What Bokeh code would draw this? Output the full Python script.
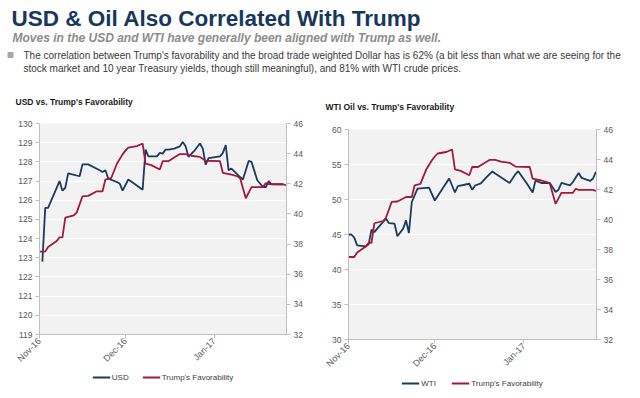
import math
import pandas as pd
from bokeh.plotting import figure
from bokeh.models import (Range1d, LinearAxis, Label, Legend, LegendItem, MonthsTicker,
                          DatetimeTickFormatter, FixedTicker)
from bokeh.layouts import column, row
from bokeh.embed import file_html
from bokeh.resources import INLINE

# ---------------- texts ----------------
TITLE = "USD & Oil Also Correlated With Trump"
SUBTITLE = "Moves in the USD and WTI have generally been aligned with Trump as well."
BULLET_LINES = [
    "The correlation between Trump's favorability and the broad trade weighted Dollar has is 62% (a bit less than what we are seeing for the",
    "stock market and 10 year Treasury yields, though still meaningful), and 81% with WTI crude prices.",
]
CHART1_TITLE = "USD vs. Trump's Favorability"
CHART2_TITLE = "WTI Oil vs. Trump's Favorability"
USD_LABEL = "USD"
WTI_LABEL = "WTI"
FAV_LABEL = "Trump's Favorability"

# ---------------- data ----------------
usd_dates = ["2016-11-02", "2016-11-03", "2016-11-04", "2016-11-08", "2016-11-09", "2016-11-10",
             "2016-11-11", "2016-11-15", "2016-11-16", "2016-11-18", "2016-11-22", "2016-11-23",
             "2016-11-24", "2016-11-25", "2016-11-28", "2016-11-29", "2016-11-30", "2016-12-02",
             "2016-12-04", "2016-12-07", "2016-12-08", "2016-12-09", "2016-12-12", "2016-12-13",
             "2016-12-14", "2016-12-15", "2016-12-16", "2016-12-18", "2016-12-20", "2016-12-21",
             "2016-12-22", "2016-12-23", "2016-12-25", "2016-12-27", "2016-12-28", "2016-12-29",
             "2016-12-30", "2017-01-03", "2017-01-04", "2017-01-05", "2017-01-06", "2017-01-07",
             "2017-01-10", "2017-01-11", "2017-01-13", "2017-01-14", "2017-01-16", "2017-01-18",
             "2017-01-19", "2017-01-20", "2017-01-21", "2017-01-25"]
usd_values = [122.8, 125.6, 125.6, 127.0, 126.5, 126.65,
              127.4, 127.25, 127.87, 127.87, 127.56, 127.47,
              127.56, 127.13, 126.95, 126.87, 126.5, 127.08,
              126.87, 126.55, 128.64, 128.29, 128.29, 128.47,
              128.43, 128.64, 128.64, 128.69, 128.81, 129.04,
              128.81, 128.26, 128.57, 128.96, 128.69, 127.85,
              128.2, 128.29, 128.47, 128.87, 127.56, 127.65,
              127.21, 127.08, 128.05, 128.0, 127.04, 126.69,
              126.69, 127.0, 126.83, 126.83]

wti_dates = ["2016-11-01", "2016-11-02", "2016-11-03", "2016-11-04", "2016-11-07", "2016-11-08",
             "2016-11-09", "2016-11-10", "2016-11-11", "2016-11-14", "2016-11-15", "2016-11-17",
             "2016-11-18", "2016-11-20", "2016-11-21", "2016-11-22", "2016-11-23", "2016-11-25",
             "2016-11-29", "2016-12-01", "2016-12-04", "2016-12-06", "2016-12-08", "2016-12-09",
             "2016-12-13", "2016-12-14", "2016-12-15", "2016-12-17", "2016-12-19", "2016-12-21",
             "2016-12-22", "2016-12-27", "2016-12-29", "2016-12-30", "2017-01-02", "2017-01-04",
             "2017-01-05", "2017-01-07", "2017-01-10", "2017-01-12", "2017-01-13", "2017-01-14",
             "2017-01-17", "2017-01-18", "2017-01-20", "2017-01-21", "2017-01-24", "2017-01-25",
             "2017-01-26"]
wti_values = [45.0, 45.0, 44.55, 43.45, 43.3, 43.6,
              45.7, 45.35, 45.84, 47.27, 46.64, 46.55,
              44.74, 45.84, 47.02, 45.21, 49.64, 51.56,
              51.7, 49.85, 51.75, 53.0, 51.0, 51.9,
              52.25, 51.4, 52.0, 52.3, 53.2, 54.0,
              53.7, 52.36, 53.6, 54.05, 52.28, 51.0,
              52.7, 52.36, 52.36, 51.07, 51.4, 52.36,
              52.03, 52.5, 53.8, 53.1, 52.65, 53.0,
              53.95]

fav_dates = ["2016-11-01", "2016-11-03", "2016-11-04", "2016-11-07", "2016-11-08", "2016-11-09",
             "2016-11-10", "2016-11-13", "2016-11-14", "2016-11-16", "2016-11-18", "2016-11-21",
             "2016-11-23", "2016-11-24", "2016-11-26", "2016-11-28", "2016-11-30", "2016-12-01",
             "2016-12-02", "2016-12-05", "2016-12-07", "2016-12-08", "2016-12-10", "2016-12-13",
             "2016-12-14", "2016-12-16", "2016-12-18", "2016-12-20", "2016-12-22", "2016-12-24",
             "2016-12-27", "2016-12-29", "2017-01-03", "2017-01-04", "2017-01-07", "2017-01-09",
             "2017-01-10", "2017-01-12", "2017-01-14", "2017-01-18", "2017-01-19", "2017-01-20",
             "2017-01-25", "2017-01-26"]
fav_values = [37.5, 37.5, 37.8, 38.2, 38.45, 38.45,
              39.75, 39.9, 40.1, 41.17, 41.2, 41.5,
              41.5, 42.28, 42.37, 43.33, 43.95, 44.2,
              44.4, 44.5, 44.67, 43.34, 43.24, 42.95,
              43.5, 43.5, 43.74, 43.97, 43.97, 43.86,
              43.78, 43.53, 43.5, 42.72, 42.6, 42.5,
              42.38, 41.04, 41.78, 41.78, 42.05, 41.98,
              41.97, 41.9]

usd_ticks = list(range(119, 131))
wti_ticks = list(range(30, 61, 5))
fav_ticks = list(range(32, 47, 2))
month_format = "%b-%y"

# ---------------- style ----------------
NAVY = "#1b3a5e"
RED = "#a3193b"
TITLE_COLOR = "#17375e"
AXIS_GREY = "#bfbfbf"
TICK_TEXT = "#595959"
FONT = "Liberation Sans"
X_START = pd.Timestamp("2016-11-01")
X_END = pd.Timestamp("2017-01-26 05:00")
HDR_H = 112
NAN = float("nan")

# ---------------- header ----------------
hdr = figure(width=640, height=HDR_H, x_range=Range1d(0, 640), y_range=Range1d(0, HDR_H),
             toolbar_location=None, output_backend="svg", min_border=0,
             x_axis_type=None, y_axis_type=None, outline_line_color=None)
hdr.grid.visible = False


def add_label(fig, x, y_top, text, size, color, style="normal"):
    fig.add_layout(Label(x=x, y=HDR_H - y_top, text=text, text_font=FONT,
                         text_font_size=size, text_color=color, text_font_style=style,
                         text_baseline="middle", text_align="left"))


add_label(hdr, 11, 17.5, TITLE, "22.5px", TITLE_COLOR, "bold")
add_label(hdr, 12, 37.5, SUBTITLE, "12px", "#8c8c8c", "bold italic")
add_label(hdr, 23, 54.5, BULLET_LINES[0], "10px", "#3a3a3a")
add_label(hdr, 23, 68, BULLET_LINES[1], "10px", "#3a3a3a")
hdr.scatter(x=[10], y=[HDR_H - 54.5], marker="square", size=5, color="#a6a6a6")
add_label(hdr, 15, 101.7, CHART1_TITLE, "8.5px", "#1a1a1a", "bold")
add_label(hdr, 325, 106.7, CHART2_TITLE, "8.5px", "#1a1a1a", "bold")


def make_chart(dates, values, label, yr, ticks, border, height, legend_h, legend_margin):
    left, right, top, bottom = border
    p = figure(width=320, height=height, x_axis_type="datetime",
               x_range=Range1d(X_START, X_END), y_range=Range1d(*yr),
               min_border_left=left, min_border_right=right,
               min_border_top=top, min_border_bottom=bottom,
               toolbar_location=None, output_backend="svg",
               background_fill_color="#f2f2f2", outline_line_color=None)
    p.extra_y_ranges = {"fav": Range1d(32, 46)}
    p.yaxis.ticker = FixedTicker(ticks=ticks)
    rax = LinearAxis(y_range_name="fav", ticker=FixedTicker(ticks=fav_ticks))
    p.add_layout(rax, "right")
    p.xaxis.ticker = MonthsTicker(months=list(range(12)))
    p.xaxis.formatter = DatetimeTickFormatter(months=month_format, days=month_format,
                                              years=month_format)
    p.xaxis.major_label_orientation = math.pi / 4
    for ax in p.axis:
        ax.axis_line_color = AXIS_GREY
        ax.major_tick_line_color = AXIS_GREY
        ax.minor_tick_line_color = None
        ax.major_tick_out = 4
        ax.major_tick_in = 0
        ax.major_label_text_font = FONT
        ax.major_label_text_font_size = "8.5px"
        ax.major_label_text_color = TICK_TEXT
        ax.major_label_standoff = 3
    p.xaxis.major_label_text_font_size = "9px"
    p.xaxis.major_label_standoff = 1
    p.xgrid.visible = False
    p.ygrid.grid_line_color = "white"
    p.ygrid.grid_line_width = 1

    p.line(x=pd.to_datetime(dates), y=values, color=NAVY, line_width=1.8)
    p.line(x=pd.to_datetime(fav_dates), y=fav_values, color=RED, line_width=1.8,
           y_range_name="fav")

    # legend strip below the chart (own small figure; swatch renderers hold no drawable data)
    lf = figure(width=320, height=legend_h, toolbar_location=None, output_backend="svg",
                x_range=Range1d(0, 1), y_range=Range1d(0, 1),
                min_border=0, x_axis_type=None, y_axis_type=None, outline_line_color=None)
    lf.grid.visible = False
    s1 = lf.line(x=[NAN], y=[NAN], color=NAVY, line_width=1.8)
    s2 = lf.line(x=[NAN], y=[NAN], color=RED, line_width=1.8)
    leg = Legend(items=[LegendItem(label=label, renderers=[s1]),
                        LegendItem(label=FAV_LABEL, renderers=[s2])],
                 orientation="horizontal", location="top_center",
                 border_line_color=None, background_fill_alpha=0,
                 label_text_font=FONT, label_text_font_size="8px",
                 label_text_color="#404040",
                 glyph_width=18, glyph_height=10, label_height=10,
                 label_standoff=2, spacing=10, padding=1, margin=legend_margin)
    lf.add_layout(leg)
    return column(p, lf, spacing=0)


c1 = make_chart(usd_dates, usd_values, USD_LABEL, (119, 130), usd_ticks,
                (39, 34, 11, 37), 259, 27, 1)
c2 = make_chart(wti_dates, wti_values, WTI_LABEL, (30, 60), wti_ticks,
                (28, 44, 17, 37), 264, 22, 2)

layout = column(hdr, row(c1, c2, spacing=0), spacing=0)
open("out.html", "w").write(file_html(layout, INLINE))
